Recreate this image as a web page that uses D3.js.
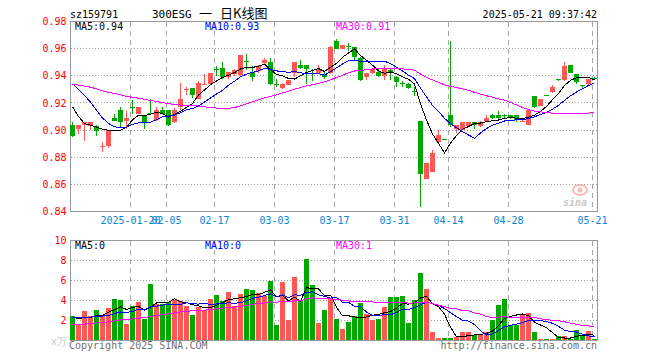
<html>
<head>
<meta charset="utf-8">
<style>
body { margin: 0; background: #fff; }
svg text { font-family: "DejaVu Sans Mono", monospace; font-size: 10px; }
</style>
</head>
<body>
<svg id="kline"></svg>
<script src="https://d3js.org/d3.v7.min.js"></script>
<script>

// trading days shown (2025)
var dates = ["01-06","01-07","01-08","01-09","01-10","01-13","01-14","01-15","01-16","01-17",
    "01-20","01-21","01-22","01-23","01-24","01-27",
    "02-05","02-06","02-07","02-10","02-11","02-12","02-13","02-14","02-17","02-18",
    "02-19","02-20","02-21","02-24","02-25","02-26","02-27","02-28",
    "03-03","03-04","03-05","03-06","03-07","03-10","03-11","03-12","03-13","03-14",
    "03-17","03-18","03-19","03-20","03-21","03-24","03-25","03-26","03-27","03-28","03-31",
    "04-01","04-02","04-03","04-07","04-08","04-09","04-10","04-11","04-14","04-15",
    "04-16","04-17","04-18","04-21","04-22","04-23","04-24","04-25","04-28","04-29","04-30",
    "05-06","05-07","05-08","05-09","05-12","05-13","05-14","05-15","05-16","05-19","05-20","05-21"];

var openP = [.904,.901,.904,.903,.903,.887,.888,.909,.915,.907,
    .917,.912,.911,.9125,.908,.915,.915,.906,.917,.929,
    .931,.923,.934,.934,.945,.946,.939,.941,.940,.951,
    .943,.943,.950,.950,.934,.931,.933,.942,.948,.948,
    .942,.942,.941,.942,.966,.960,.962,.961,.953,.939,
    .942,.943,.940,.944,.939,.9345,.934,.929,.907,.864,
    .869,.891,.8935,.911,.901,.900,.903,.906,.903,.907,
    .911,.911,.911,.911,.911,.906,.904,.925,.918,.9255,
    .928,.938,.937,.948,.941,.933,.934,.9385];

var closeP = [.896,.904,.906,.906,.899,.888,.900,.907,.906,.909,
    .916,.917,.905,.912,.915,.912,.904,.915,.923,.930,
    .926,.935,.934,.942,.944,.939,.943,.944,.955,.950,
    .939,.947,.952,.934,.933,.934,.937,.950,.946,.945,
    .941,.945,.939,.961,.960,.963,.961,.954,.937,.942,
    .945,.940,.945,.942,.935,.934,.931,.928,.868,.876,
    .883,.896,.893,.904,.904,.906,.906,.904,.906,.909,
    .909,.909,.910,.909,.907,.907,.915,.917,.923,.925,
    .932,.937,.947,.942,.935,.932,.938,.938];

var highP = [.906,.904,.906,.906,.904,.891,.900,.912,.917,.914,
    .922,.917,.911,.923,.917,.917,.915,.916,.935,.932,
    .931,.936,.941,.942,.947,.950,.943,.945,.955,.956,
    .947,.948,.953,.953,.938,.935,.937,.950,.952,.948,
    .945,.948,.943,.962,.967,.963,.964,.961,.954,.942,
    .945,.945,.948,.945,.940,.936,.935,.932,.907,.876,
    .885,.900,.8935,.966,.904,.906,.906,.906,.907,.911,
    .912,.914,.912,.911,.911,.908,.915,.925,.923,.926,
    .933,.938,.950,.948,.941,.933,.938,.939];

var lowP = [.895,.897,.892,.900,.896,.884,.887,.907,.902,.901,
    .912,.912,.901,.912,.907,.912,.903,.905,.915,.926,
    .924,.923,.933,.933,.940,.938,.938,.940,.939,.944,
    .936,.942,.948,.933,.932,.930,.933,.939,.945,.934,
    .936,.941,.938,.941,.960,.960,.958,.951,.936,.937,
    .941,.939,.937,.937,.932,.932,.930,.925,.843,.864,
    .869,.891,.893,.902,.898,.900,.902,.901,.902,.906,
    .908,.908,.908,.908,.906,.906,.904,.916,.918,.925,
    .927,.936,.936,.942,.934,.930,.933,.937];

var volume = [2.43,1.6,2.93,2.5,3.03,2.5,3.23,4.13,4.03,1.63,
    3.47,3.83,2.13,5.63,3.7,3.7,3.9,4.03,3.97,3.43,
    2.53,3.37,3.03,4.13,4.53,3.93,4.83,3.43,4.63,5.13,
    5.03,4.77,4.5,5.93,1.53,5.83,2.03,6.33,4.03,8.13,
    5.53,1.73,3.03,4.23,2.13,1.13,1.83,2.43,3.77,2.63,
    2.03,2.13,3.33,4.33,4.33,4.43,1.73,4.03,6.73,5.13,
    0.83,0.23,0.23,0.23,0.33,0.83,0.83,0.53,0.53,0.83,
    2.03,3.53,4.13,1.53,1.53,2.53,2.73,0.83,0.13,0.13,
    0.13,0.43,0.43,0.13,1.03,0.43,0.93,0.13];

// closes / volumes before the first visible day, only used to start the moving averages
var prevClose = [0.925,0.928,0.931,0.936,0.934,0.930,0.933,0.938,0.941,0.937,
    0.935,0.932,0.936,0.939,0.934,0.930,0.933,0.936,0.934,0.931,
    0.948,0.950,0.956,0.958,0.945,0.940,0.932,0.912,0.906];
var prevVolume = [1.0,1.3,0.9,1.1,1.4,1.2,0.8,1.0,1.5,1.3,
    1.1,1.4,1.2,0.9,1.3,1.5,1.2,1.0,1.4,1.5,
    2.0,2.5,2.1,2.4,2.15,2.6,2.2,2.5,2.12];

var priceTicks = [0.84,0.86,0.88,0.90,0.92,0.94,0.96,0.98];
var volTicks = [2,4,6,8,10];
var labelDates = ["01-20","02-05","02-17","03-03","03-17","03-31","04-14","04-28","05-21"];
var labelText = ["2025-01-20","02-05","02-17","03-03","03-17","03-31","04-14","04-28","05-21"];
var priceLegend = ["MA5:0.94","MA10:0.93","MA30:0.91"];
var volLegend = ["MA5:0","MA10:0","MA30:1"];

var red = "#ff5656", green = "#00a800";
var maColors = ["#000000","#0000ff","#ff00ff"];
var legendX = [75,205,336];

var movingAvg = function(values, prev, n)
{
    var all = prev.concat(values);
    return values.map(function(v, i)
    {
        var end = prev.length + i + 1;
        return d3.mean(all.slice(end - n, end));
    });
}

var svg = d3.select("#kline")
    .attr("width",660)
    .attr("height",360);

var xScale = d3.scaleBand()
    .domain(dates)
    .range([70,598])
    .paddingInner(1/6)
    .paddingOuter(1/12);

var yPrice = d3.scaleLinear().domain([0.84,0.98]).range([211.5,21.5]);
var yVol = d3.scaleLinear().domain([0,10]).range([340.5,240.5]);

var isUp = function(i) { return closeP[i] >= openP[i]; }

//grid + frame for a pane
var drawPane = function(top, bottom, yScale, ticks)
{
    var g = svg.append("g").attr("shape-rendering","crispEdges");

    g.selectAll(".hgrid")
        .data(ticks)
        .enter()
        .append("line")
        .attr("x1",70.5).attr("x2",597.5)
        .attr("y1",function(d){ return Math.round(yScale(d)-0.5)+0.5; })
        .attr("y2",function(d){ return Math.round(yScale(d)-0.5)+0.5; })
        .attr("stroke","#a0a0a0")
        .attr("stroke-dasharray","1,2");

    g.selectAll(".vgrid")
        .data(labelDates)
        .enter()
        .append("line")
        .attr("x1",function(d){ return xScale(d); })
        .attr("x2",function(d){ return xScale(d); })
        .attr("y1",top).attr("y2",bottom)
        .attr("stroke","#a8a8a8")
        .attr("stroke-dasharray","5,4");

    g.append("rect")
        .attr("x",70.5).attr("y",top)
        .attr("width",527).attr("height",bottom-top)
        .attr("fill","none")
        .attr("stroke","#999");

    var axis = svg.append("g")
        .attr("transform","translate(70.5,0)")
        .call(d3.axisLeft(yScale).tickValues(ticks).tickSize(0).tickPadding(4)
            .tickFormat(yScale === yPrice ? d3.format(".2f") : d3.format("d")));
    axis.select(".domain").remove();
    axis.selectAll("text")
        .attr("fill","#ff0000")
        .attr("font-family","DejaVu Sans Mono, monospace")
        .attr("font-size",10);
    return g;
}

drawPane(21.5, 211.5, yPrice, priceTicks);
drawPane(240.5, 340.5, yVol, volTicks);

//candles
var candles = svg.append("g").attr("shape-rendering","crispEdges");

candles.selectAll(".wick")
    .data(dates)
    .enter()
    .append("line")
    .attr("x1",function(d){ return xScale(d)+2; })
    .attr("x2",function(d){ return xScale(d)+2; })
    .attr("y1",function(d,i){ return yPrice(highP[i]); })
    .attr("y2",function(d,i){ return yPrice(lowP[i]); })
    .attr("stroke",function(d,i){ return isUp(i) ? red : green; });

candles.selectAll(".body")
    .data(dates)
    .enter()
    .append("rect")
    .attr("x",function(d){ return xScale(d)-0.5; })
    .attr("width",xScale.bandwidth())
    .attr("y",function(d,i){ return Math.round(yPrice(Math.max(openP[i],closeP[i]))); })
    .attr("height",function(d,i)
    {
        return Math.max(1, Math.round(Math.abs(yPrice(openP[i])-yPrice(closeP[i]))));
    })
    .attr("fill",function(d,i){ return isUp(i) ? red : green; });

//volume bars
svg.append("g")
    .attr("shape-rendering","crispEdges")
    .selectAll("rect")
    .data(volume)
    .enter()
    .append("rect")
    .attr("x",function(v,i){ return xScale(dates[i])-0.5; })
    .attr("width",xScale.bandwidth())
    .attr("y",function(v){ return Math.round(yVol(v)); })
    .attr("height",function(v){ return 340 - Math.round(yVol(v)); })
    .attr("fill",function(v,i){ return isUp(i) ? red : green; });

//moving averages
var drawMA = function(values, prev, yScale)
{
    [5,10,30].forEach(function(n, k)
    {
        var line = d3.line()
            .x(function(d,i){ return xScale(dates[i])+2; })
            .y(function(d){ return yScale(d); });
        svg.append("path")
            .datum(movingAvg(values, prev, n))
            .attr("d",line)
            .attr("fill","none")
            .attr("stroke",maColors[k])
            .attr("stroke-width",1)
            .attr("shape-rendering","crispEdges");
    });
}

drawMA(closeP, prevClose, yPrice);
drawMA(volume, prevVolume, yVol);

//legends
var drawLegend = function(texts, y)
{
    svg.append("g")
        .selectAll("text")
        .data(texts)
        .enter()
        .append("text")
        .attr("x",function(d,i){ return legendX[i]; })
        .attr("y",y)
        .attr("fill",function(d,i){ return maColors[i]; })
        .text(function(d){ return d; });
}
drawLegend(priceLegend, 29.5);
drawLegend(volLegend, 249);

//date labels
var xAxis = svg.append("g")
    .attr("transform","translate(-2.5,211.5)")
    .call(d3.axisBottom(xScale).tickValues(labelDates).tickSize(0).tickPadding(5)
        .tickFormat(function(d,i){ return labelText[i]; }));
xAxis.select(".domain").remove();
xAxis.selectAll("text")
    .attr("fill","#0a86d6")
    .attr("font-family","DejaVu Sans Mono, monospace")
    .attr("font-size",10);

//header
svg.append("text").attr("x",70).attr("y",17.5).text("sz159791");
var title = svg.append("text").attr("x",152).attr("y",18);
title.append("tspan").attr("font-size",11).text("300ESG");
title.append("tspan").attr("x",199).attr("font-family","Noto Sans CJK SC").attr("font-size",13).text("一");
title.append("tspan").attr("x",220).attr("font-family","Noto Sans CJK SC").attr("font-size",13).text("日K线图");
svg.append("text").attr("x",597).attr("y",17.5).attr("text-anchor","end").text("2025-05-21 09:37:42");

//unit + footer
svg.append("text").attr("x",67).attr("y",345).attr("text-anchor","end")
    .attr("fill","#c8c8c8").attr("font-family","Noto Sans CJK SC").text("x万");
svg.append("text").attr("x",69).attr("y",349).attr("fill","#707070").text("Copyright 2025 SINA.COM");
svg.append("text").attr("x",597).attr("y",349).attr("text-anchor","end")
    .attr("fill","#707070").text("http://finance.sina.com.cn");

//sina watermark
var mark = svg.append("g").attr("opacity",0.55);
mark.append("ellipse").attr("cx",580).attr("cy",190).attr("rx",7).attr("ry",5)
    .attr("fill","none").attr("stroke","#f08080").attr("stroke-width",2);
mark.append("circle").attr("cx",580).attr("cy",190).attr("r",2.5).attr("fill","#f08080");
mark.append("text").attr("x",563).attr("y",206)
    .attr("font-family","DejaVu Sans, sans-serif").attr("font-size",17)
    .attr("font-style","italic").attr("font-weight","bold")
    .attr("fill","#a0a0a0").text("sina");

</script>
</body>
</html>
